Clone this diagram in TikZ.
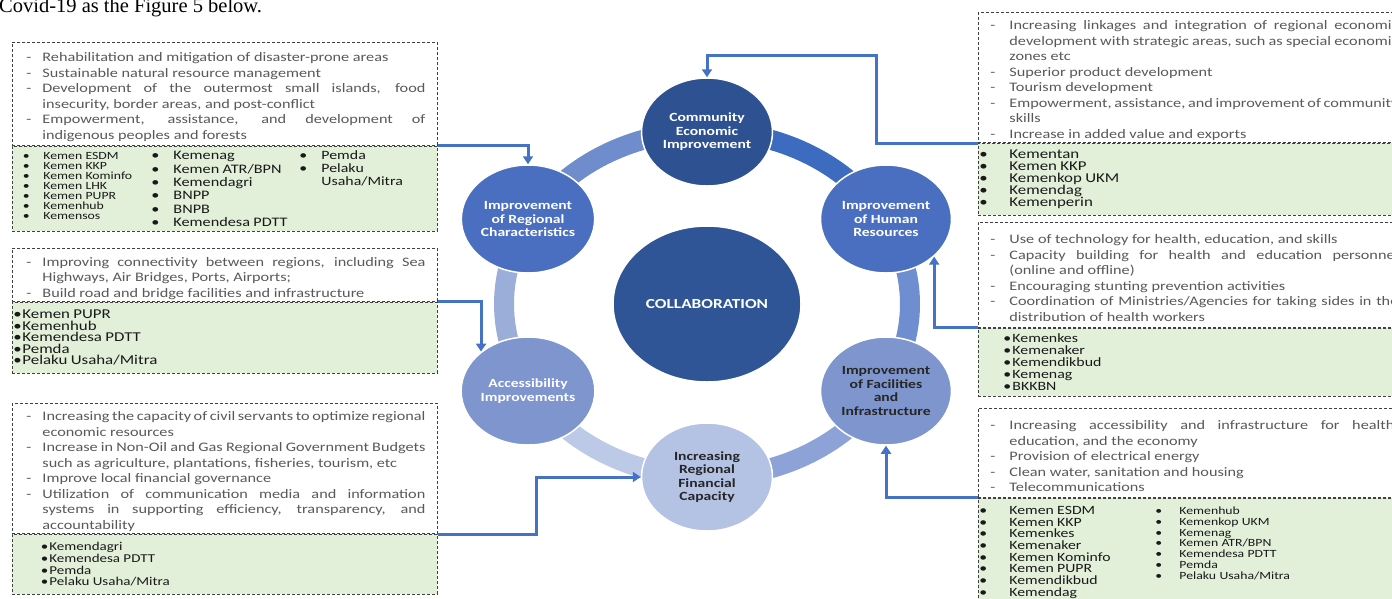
\documentclass[tikz,border=0pt]{standalone}
\usepackage{fontspec}
\setmainfont{Carlito}[FakeStretch=1.25]
\newfontfamily\capserif{Liberation Serif}
\usetikzlibrary{shapes, arrows.meta}

\definecolor{arrowblue}{HTML}{4472C4}
\definecolor{boxline}{HTML}{404040}
\definecolor{orggreen}{HTML}{E2EFD9}
\definecolor{aimgray}{HTML}{595959}
\definecolor{ceidark}{HTML}{2E5191}
\definecolor{collabblue}{HTML}{2F5597}
\definecolor{midblue}{HTML}{4A6FC0}
\definecolor{softblue}{HTML}{7E95CE}
\definecolor{paleblue}{HTML}{B4C2E4}
\definecolor{ringa}{HTML}{3D6BC0}
\definecolor{ringb}{HTML}{6F8DCC}
\definecolor{ringc}{HTML}{9BAEDA}
\definecolor{ringd}{HTML}{BCC9E7}
\definecolor{ringe}{HTML}{8DA3D8}
\definecolor{ringf}{HTML}{6E8ED0}

\hyphenpenalty=10000
\exhyphenpenalty=10000

\newlength{\markpos}
\newlength{\marktxt}
\newcommand{\dashitem}[1]{\par\hangindent=\marktxt\hangafter=1\noindent\makebox[\marktxt][l]{\hspace{\markpos}-}#1\par}
\newcommand{\bulitem}[1]{\par\hangindent=\marktxt\hangafter=1\noindent\makebox[\marktxt][l]{\hspace{\markpos}\textbullet}#1\par}

\begin{document}
\begin{tikzpicture}[x=1pt, y=-1pt,
	aimbox/.style={draw=boxline, dash pattern=on 3pt off 2pt, line width=0.9pt, fill=white, inner ysep=2pt, align=justify, text=aimgray, font=\fontsize{13}{15.5}\selectfont, anchor=north west},
	leftaim/.style={aimbox, text width=401pt, inner xsep=12pt, execute at begin node={\setlength{\markpos}{2pt}\setlength{\marktxt}{18pt}}},
	rightaim/.style={aimbox, text width=410pt, inner xsep=10pt, execute at begin node={\setlength{\markpos}{2pt}\setlength{\marktxt}{21pt}}},
	orgbox/.style={draw=boxline, dash pattern=on 3pt off 2pt, line width=0.9pt, fill=orggreen, inner xsep=0pt, inner ysep=2pt, align=left, text=black!90, anchor=north west},
	goal/.style={ellipse, draw=white, line width=1.5pt, minimum width=131pt, minimum height=108pt, inner sep=0pt, align=center, font=\bfseries\fontsize{12.5}{13.5}\selectfont, text=white},
	ringpart/.style={line width=20pt},
	link/.style={draw=arrowblue, line width=3pt, -{Triangle[width=10pt,length=8pt]}}]
	\useasboundingbox (0,0) rectangle (1392,598);
	\clip (0,0) rectangle (1392,598);
	
	% Caption line of the page
	\node[anchor=base west, inner sep=0pt, font=\capserif\fontsize{20.5}{20.5}\selectfont] (caption) at (-1,12) {Covid-19 as the Figure 5 below.};
	
	% Ring
	\coordinate (hub) at (707,304);
	\foreach \from/\col in {-90/ringa, -150/ringb, -210/ringc, 90/ringd, 30/ringe, -30/ringf}
		\draw[ringpart, \col] (hub) ++(\from:203 and 173) arc[start angle=\from, delta angle=60, x radius=203, y radius=173];
	
	% Circles
	\node[goal, fill=collabblue, minimum width=188pt, minimum height=156pt, font=\bfseries\fontsize{13.8}{15}\selectfont] (collab) at (hub) {COLLABORATION};
	\node[goal, fill=ceidark] (cei) at (707,132) {Community\\Economic\\Improvement};
	\node[goal, fill=midblue] (reg) at (528,219) {Improvement\\of Regional\\Characteristics};
	\node[goal, fill=midblue] (hr) at (886,219) {Improvement\\of Human\\Resources};
	\node[goal, fill=softblue] (acc) at (528,391) {Accessibility\\Improvements};
	\node[goal, fill=softblue, text=black!85] (fac) at (886,391) {Improvement\\of Facilities\\and\\Infrastructure};
	\node[goal, fill=paleblue, text=black!85] (fin) at (707,477) {Increasing\\Regional\\Financial\\Capacity};
	
	% Left boxes
	\node[leftaim, minimum height=103pt] (regaim) at (12,42) {%
		\dashitem{Rehabilitation and mitigation of disaster-prone areas}
		\dashitem{Sustainable natural resource management}
		\dashitem{Development of the outermost small islands, food\linebreak insecurity, border areas, and post-conflict}
		\dashitem{Empowerment, assistance, and development of\linebreak indigenous peoples and forests}};
	\node[orgbox, text width=425pt, minimum height=85pt] (regorg) at (regaim.south west) {%
		\noindent\begin{minipage}[t]{131pt}\fontsize{11}{10}\selectfont\raggedright
			\setlength{\markpos}{10.5pt}\setlength{\marktxt}{31pt}%
			\bulitem{Kemen ESDM}\bulitem{Kemen KKP}\bulitem{Kemen Kominfo}\bulitem{Kemen LHK}%
			\bulitem{Kemen PUPR}\bulitem{Kemenhub}\bulitem{Kemensos}
		\end{minipage}%
		\begin{minipage}[t]{150pt}\fontsize{13}{13.3}\selectfont\raggedright
			\setlength{\markpos}{8pt}\setlength{\marktxt}{30pt}%
			\bulitem{Kemenag}\bulitem{Kemen ATR/BPN}\bulitem{Kemendagri}\bulitem{BNPP}%
			\bulitem{BNPB}\bulitem{Kemendesa PDTT}
		\end{minipage}%
		\begin{minipage}[t]{133pt}\fontsize{12.7}{13}\selectfont\raggedright
			\setlength{\markpos}{6pt}\setlength{\marktxt}{28pt}%
			\bulitem{Pemda}\bulitem{Pelaku Usaha/Mitra}
		\end{minipage}};
	
	\node[leftaim, minimum height=53pt] (accaim) at (12,248) {%
		\dashitem{Improving connectivity between regions, including Sea\linebreak Highways, Air Bridges, Ports, Airports;}
		\dashitem{Build road and bridge facilities and infrastructure}};
	\node[orgbox, text width=425pt, minimum height=71pt] (accorg) at (accaim.south west) {%
		\noindent\begin{minipage}[t]{300pt}\fontsize{13.5}{11.5}\selectfont\raggedright
			\setlength{\markpos}{1pt}\setlength{\marktxt}{10pt}%
			\bulitem{Kemen PUPR}\bulitem{Kemenhub}\bulitem{Kemendesa PDTT}\bulitem{Pemda}%
			\bulitem{Pelaku Usaha/Mitra}
		\end{minipage}};
	
	\node[leftaim, minimum height=130pt] (finaim) at (12,403) {%
		\dashitem{Increasing the capacity of civil servants to optimize regional\linebreak economic resources}
		\dashitem{Increase in Non-Oil and Gas Regional Government Budgets\linebreak such as agriculture, plantations, fisheries, tourism, etc}
		\dashitem{Improve local financial governance}
		\dashitem{Utilization of communication media and information\linebreak systems in supporting efficiency, transparency, and\linebreak accountability}};
	\node[orgbox, text width=425pt, minimum height=60pt] (finorg) at (finaim.south west) {%
		\noindent\begin{minipage}[t]{300pt}\fontsize{12}{11.7}\selectfont\raggedright
			\setlength{\markpos}{28.5pt}\setlength{\marktxt}{37pt}%
			\bulitem{Kemendagri}\bulitem{Kemendesa PDTT}\bulitem{Pemda}\bulitem{Pelaku Usaha/Mitra}
		\end{minipage}};
	
	% Right boxes
	\node[rightaim, minimum height=125pt] (ceiaim) at (978,12) {%
		\dashitem{Increasing linkages and integration of regional economic\linebreak development with strategic areas, such as special economic\linebreak zones etc}
		\dashitem{Superior product development}
		\dashitem{Tourism development}
		\dashitem{Empowerment, assistance, and improvement of community\linebreak skills}
		\dashitem{Increase in added value and exports}};
	\node[orgbox, text width=430pt, minimum height=72pt] (ceiorg) at (ceiaim.south west) {%
		\noindent\begin{minipage}[t]{300pt}\fontsize{13.5}{12}\selectfont\raggedright
			\setlength{\markpos}{1pt}\setlength{\marktxt}{31pt}%
			\bulitem{Kementan}\bulitem{Kemen KKP}\bulitem{Kemenkop UKM}\bulitem{Kemendag}%
			\bulitem{Kemenperin}
		\end{minipage}};
	
	\node[rightaim, minimum height=105pt] (hraim) at (978,222) {%
		\dashitem{Use of technology for health, education, and skills}
		\dashitem{Capacity building for health and education personnel\linebreak (online and offline)}
		\dashitem{Encouraging stunting prevention activities}
		\dashitem{Coordination of Ministries/Agencies for taking sides in the\linebreak distribution of health workers}};
	\node[orgbox, text width=430pt, minimum height=68pt] (hrorg) at (hraim.south west) {%
		\noindent\begin{minipage}[t]{300pt}\fontsize{12.7}{12}\selectfont\raggedright
			\setlength{\markpos}{25pt}\setlength{\marktxt}{34pt}%
			\bulitem{Kemenkes}\bulitem{Kemenaker}\bulitem{Kemendikbud}\bulitem{Kemenag}%
			\bulitem{BKKBN}
		\end{minipage}};
	
	\node[rightaim, minimum height=89pt] (facaim) at (978,408) {%
		\dashitem{Increasing accessibility and infrastructure for health,\linebreak education, and the economy}
		\dashitem{Provision of electrical energy}
		\dashitem{Clean water, sanitation and housing}
		\dashitem{Telecommunications}};
	\node[orgbox, text width=430pt, minimum height=108pt] (facorg) at (facaim.south west) {%
		\noindent\begin{minipage}[t]{162pt}\fontsize{12.6}{11.7}\selectfont\raggedright
			\setlength{\markpos}{1pt}\setlength{\marktxt}{31pt}%
			\bulitem{Kemen ESDM}\bulitem{Kemen KKP}\bulitem{Kemenkes}\bulitem{Kemenaker}%
			\bulitem{Kemen Kominfo}\bulitem{Kemen PUPR}\bulitem{Kemendikbud}\bulitem{Kemendag}
		\end{minipage}%
		\begin{minipage}[t]{200pt}\fontsize{11}{10.8}\selectfont\raggedright
			\setlength{\markpos}{15pt}\setlength{\marktxt}{39pt}%
			\bulitem{Kemenhub}\bulitem{Kemenkop UKM}\bulitem{Kemenag}\bulitem{Kemen ATR/BPN}%
			\bulitem{Kemendesa PDTT}\bulitem{Pemda}\bulitem{Pelaku Usaha/Mitra}
		\end{minipage}};
	
	% Arrows
	\coordinate (ceibend) at (876,55);
	\draw[link] (regaim.south east) -| (reg.north);
	\draw[link] (accaim.south east) -| (acc.140);
	\draw[link] (finaim.south east) -| ([xshift=-104pt]fin.west) -- (fin.west);
	\draw[link] (ceiaim.south west) -| (ceibend) -| (cei.north);
	\draw[link] (hraim.south west) -| (hr.-38);
	\draw[link] (facaim.south west) -| (fac.south);
\end{tikzpicture}
\end{document}
